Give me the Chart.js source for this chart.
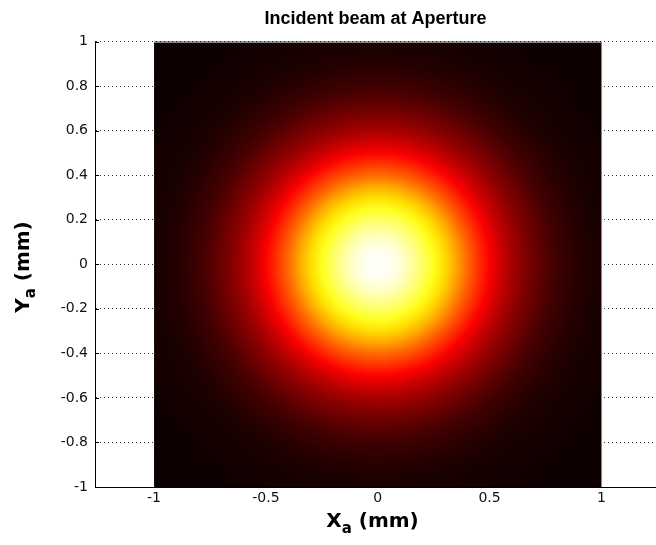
<!DOCTYPE html>
<html>
<head>
<meta charset="utf-8">
<title>Incident beam at Aperture</title>
<script src="https://cdn.jsdelivr.net/npm/chart.js@4/dist/chart.umd.min.js"></script>
<style>
  html, body { margin: 0; padding: 0; background: #fff; }
  #wrap { width: 656px; height: 545px; }
</style>
</head>
<body>
<div id="wrap"><canvas id="beamChart"></canvas></div>
<script>
// axis ticks
const xTicks = [-1, -0.5, 0, 0.5, 1];
const yTicks = [-1, -0.8, -0.6, -0.4, -0.2, 0, 0.2, 0.4, 0.6, 0.8, 1];

// image covers x,y in [-1, 1] mm
const imageExtent = [-1, 1];

// radial intensity profile (radius in mm, normalised intensity)
const profileRadius = [0, 0.05, 0.10, 0.15, 0.20, 0.25, 0.30, 0.35, 0.40, 0.45, 0.50,
                       0.55, 0.60, 0.65, 0.70, 0.75, 0.80, 0.85, 0.90, 0.95, 1.00, 1.20, 1.45];
const profileLevel  = [1.00, 0.99, 0.96, 0.91, 0.85, 0.78, 0.70, 0.62, 0.53, 0.45, 0.37,
                       0.30, 0.24, 0.19, 0.15, 0.11, 0.08, 0.06, 0.04, 0.03, 0.02, 0.005, 0];

const TITLE_FONT = "'Liberation Sans', Arial, Helvetica, sans-serif";
const FONT = "'DejaVu Sans', Verdana, sans-serif";

// matlab "hot" colormap
function hot(v) {
    const clamp = t => Math.max(0, Math.min(1, t));
    const r = clamp(0.042 + v / 0.375 * 0.958);
    const g = clamp((v - 0.375) / 0.375);
    const b = clamp((v - 0.75) / 0.25);
    return `rgb(${Math.round(r * 255)}, ${Math.round(g * 255)}, ${Math.round(b * 255)})`;
}

const beamImage = {
    id: 'beamImage',
    beforeDatasetsDraw(chart) {
        const { ctx, scales: { x, y } } = chart;
        const left = x.getPixelForValue(imageExtent[0]);
        const right = x.getPixelForValue(imageExtent[1]);
        const top = y.getPixelForValue(imageExtent[1]);
        const bottom = y.getPixelForValue(imageExtent[0]);
        const cx = x.getPixelForValue(0), cy = y.getPixelForValue(0);
        const rMax = profileRadius[profileRadius.length - 1];
        const R = x.getPixelForValue(rMax) - cx;

        const grad = ctx.createRadialGradient(cx, cy, 0, cx, cy, R);
        profileRadius.forEach((r, i) => grad.addColorStop(r / rMax, hot(profileLevel[i])));

        ctx.save();
        ctx.fillStyle = grad;
        ctx.fillRect(left, top, right - left, bottom - top);
        // thin grey frame on top and right edge of the image
        ctx.strokeStyle = '#8c8484';
        ctx.lineWidth = 1;
        ctx.beginPath();
        ctx.moveTo(Math.round(left), Math.round(top) + 0.5);
        ctx.lineTo(Math.round(right) + 0.5, Math.round(top) + 0.5);
        ctx.lineTo(Math.round(right) + 0.5, Math.round(bottom));
        ctx.stroke();
        ctx.restore();
    },
    afterDraw(chart) {
        // small inward tick marks on the left axis
        const { ctx, chartArea, scales: { y } } = chart;
        ctx.save();
        ctx.strokeStyle = '#000';
        ctx.lineWidth = 1;
        ctx.beginPath();
        yTicks.forEach(v => {
            const py = Math.round(y.getPixelForValue(v)) + 0.5;
            ctx.moveTo(chartArea.left, py);
            ctx.lineTo(chartArea.left + 4, py);
        });
        ctx.stroke();
        ctx.restore();
    }
};

// axis titles with a subscript, drawn as canvas text
function drawSubTitle(ctx, main, sub, rest, x, y) {
    const big = `bold 20px ${FONT}`, small = `bold 15px ${FONT}`;
    ctx.font = big;
    const w1 = ctx.measureText(main).width;
    const w3 = ctx.measureText(rest).width;
    ctx.font = small;
    const w2 = ctx.measureText(sub).width;
    let px = x - (w1 + w2 + w3) / 2;
    ctx.textBaseline = 'alphabetic';
    ctx.textAlign = 'left';
    ctx.font = big;
    ctx.fillText(main, px, y);
    px += w1;
    ctx.font = small;
    ctx.fillText(sub, px, y + 6);
    px += w2;
    ctx.font = big;
    ctx.fillText(rest, px, y);
}

const axisTitles = {
    id: 'axisTitles',
    afterDraw(chart) {
        const { ctx, chartArea } = chart;
        ctx.save();
        ctx.fillStyle = '#000';
        drawSubTitle(ctx, 'X', 'a', ' (mm)', (chartArea.left + chartArea.right) / 2 - 3, 527);
        ctx.translate(29, 267);
        ctx.rotate(-Math.PI / 2);
        drawSubTitle(ctx, 'Y', 'a', ' (mm)', 0, 0);
        ctx.restore();
    }
};

const fmt = v => String(+v.toFixed(2));

document.addEventListener('DOMContentLoaded', () => {
    const ctx = document.getElementById('beamChart').getContext('2d');
    new Chart(ctx, {
        type: 'scatter',
        data: { datasets: [] },
        options: {
            responsive: true,
            maintainAspectRatio: false,
            animation: false,
            layout: { padding: { left: 0, right: 0, top: 0, bottom: 0 } },
            plugins: {
                legend: { display: false },
                tooltip: { enabled: false },
                title: {
                    display: true,
                    text: 'Incident beam at Aperture',
                    fullSize: false,
                    color: '#000',
                    font: { family: TITLE_FONT, size: 18, weight: 'bold' },
                    padding: { top: 8, bottom: 12 }
                }
            },
            scales: {
                x: {
                    type: 'linear',
                    min: -1.264,
                    max: 1.244,
                    afterBuildTicks: s => { s.ticks = xTicks.map(v => ({ value: v })); },
                    afterFit: s => { s.height = 58; },
                    grid: { display: false, drawTicks: false },
                    border: { display: true, color: '#000', width: 1 },
                    ticks: { color: '#111', padding: 3, font: { family: FONT, size: 14 }, callback: fmt, maxRotation: 0 }
                },
                y: {
                    type: 'linear',
                    min: -1,
                    max: 1,
                    afterBuildTicks: s => { s.ticks = yTicks.map(v => ({ value: v })); },
                    afterFit: s => { s.width = 95; },
                    grid: { display: true, drawTicks: false, color: '#333', lineWidth: 1 },
                    border: { display: true, color: '#000', width: 1, dash: [1, 3] },
                    ticks: { color: '#111', padding: 7, font: { family: FONT, size: 14 }, callback: fmt }
                }
            }
        },
        plugins: [beamImage, axisTitles]
    });
});
</script>
</body>
</html>
